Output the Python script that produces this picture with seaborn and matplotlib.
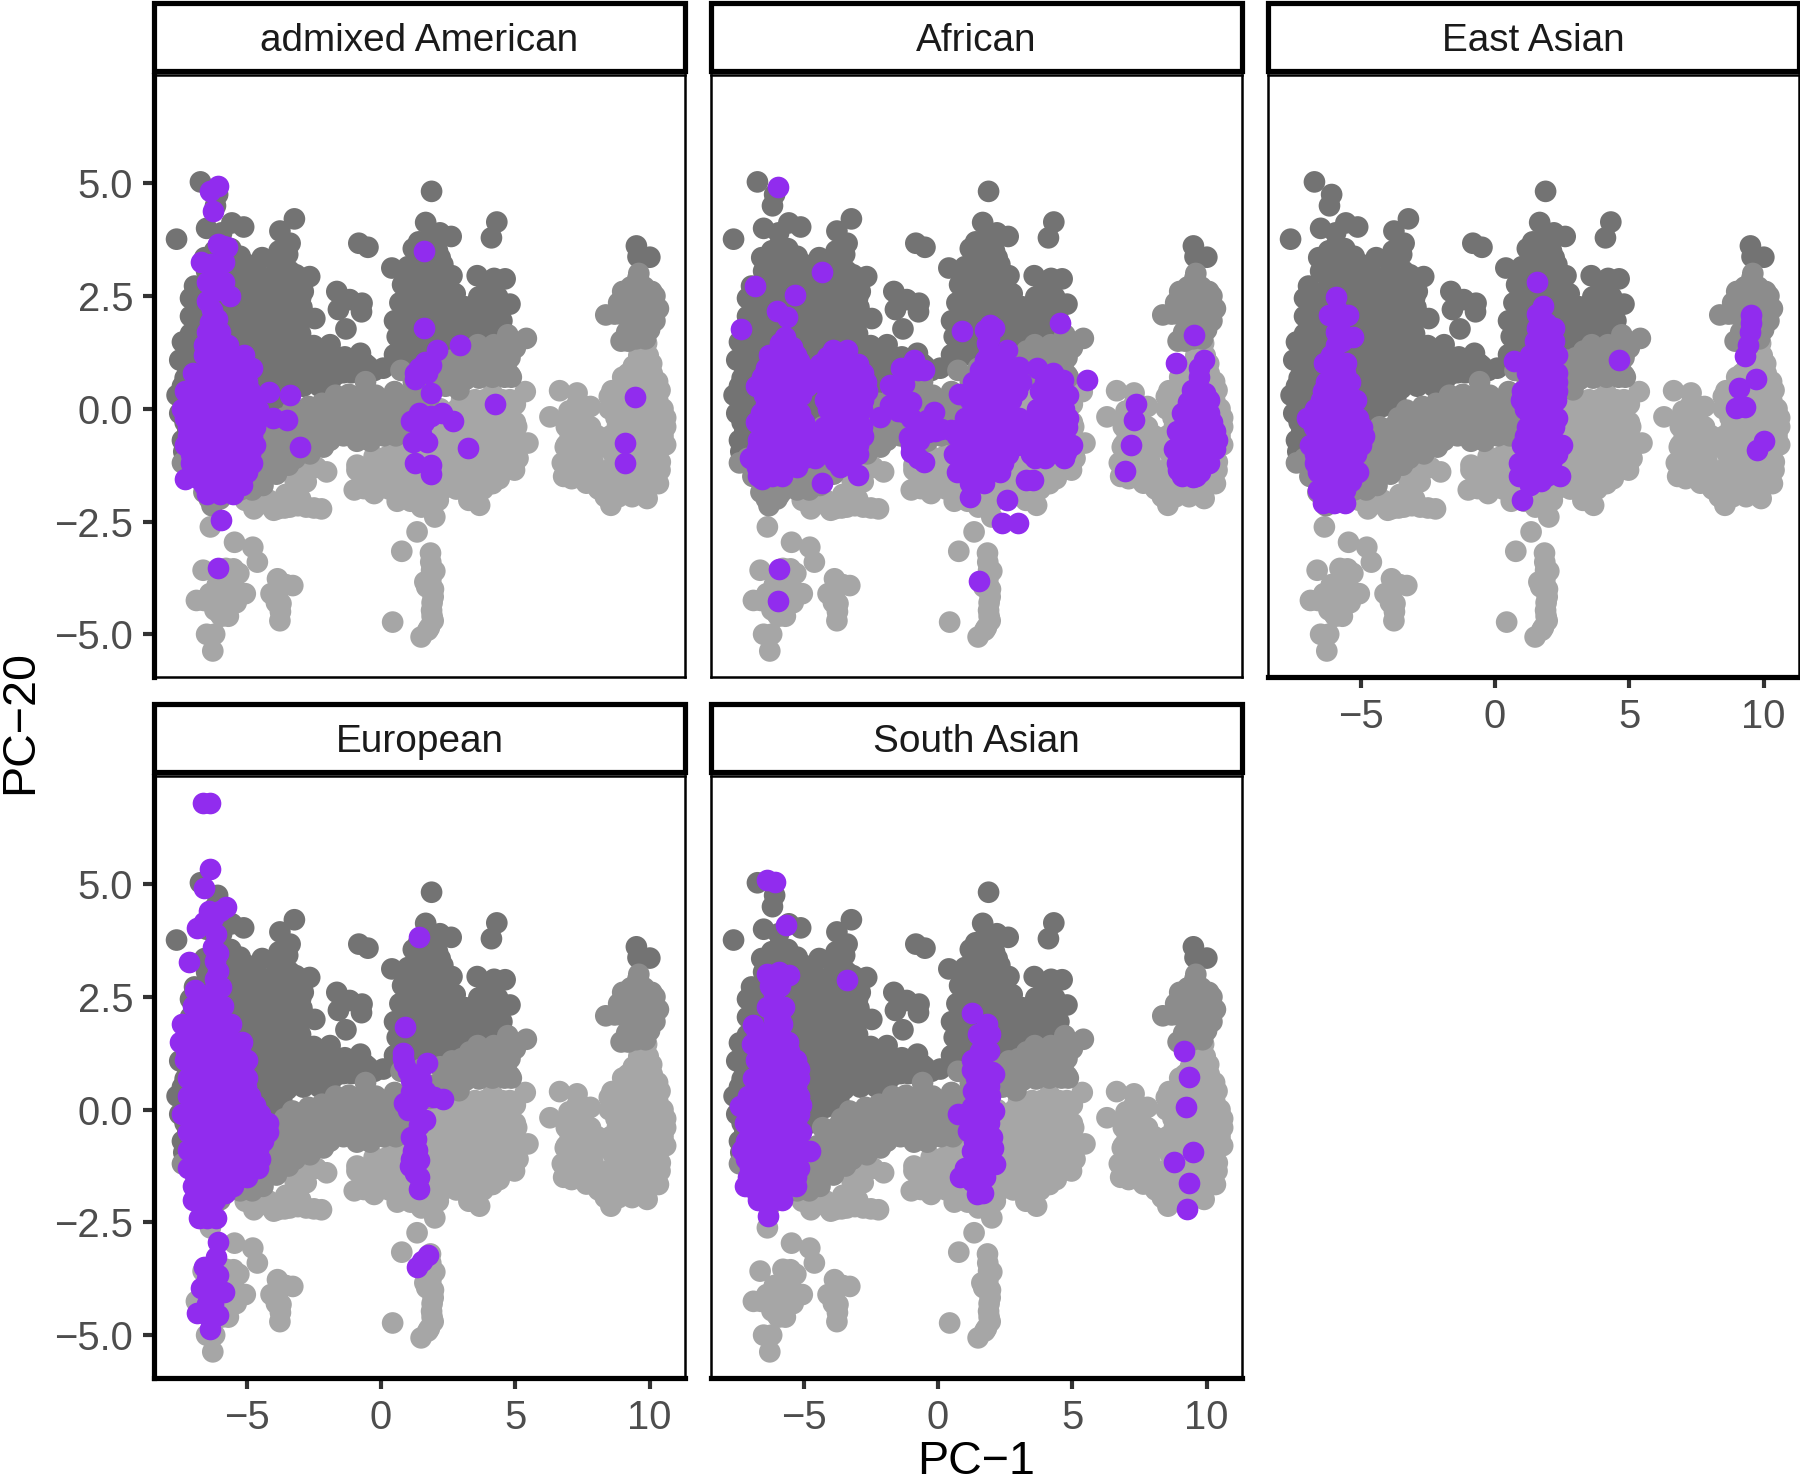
import matplotlib
matplotlib.use("Agg")
import matplotlib.pyplot as plt
import pandas as pd
import seaborn as sns
from matplotlib.patches import Rectangle

POPS = ["admixed American", "African", "East Asian", "European", "South Asian"]
X_TICKS = [-5, 0, 5, 10]
Y_TICKS = [-5.0, -2.5, 0.0, 2.5, 5.0]
Y_LABELS = ["\u22125.0", "\u22122.5", "0.0", "2.5", "5.0"]

# reference samples
DARK = [
    (-6.73, 5.03), (-6.09, 4.75), (-6.17, 4.5), (-7.62, 3.76), (-3.23, 4.21), (-3.77, 3.94), (-3.39, 3.67),
    (-6.5, 4.0), (-5.56, 4.12), (-5.12, 4.03), (-5.94, 3.9), (-6.57, 3.35), (-5.94, 3.6), (-5.25, 3.38),
    (-4.43, 3.35), (-3.8, 3.5), (-3.48, 3.42), (-0.83, 3.67), (-0.49, 3.58), (1.88, 4.82), (1.66, 4.13),
    (2.61, 3.82), (2.19, 3.9), (4.31, 4.14), (4.11, 3.79), (0.4, 3.12), (3.58, 2.95), (4.21, 2.89),
    (4.62, 2.88), (4.8, 2.32), (-1.65, 2.6), (-1.17, 2.42), (-0.71, 2.34), (-1.59, 2.2), (-0.73, 2.15),
    (-1.31, 1.77), (-2.47, 2.0), (-2.66, 2.93), (-3.17, 2.97), (9.51, 3.61), (10.01, 3.36), (9.57, 3.37),
    (0.08, 0.9), (-0.77, 1.23), (-1.9, 1.42), (-2.51, 1.4), (-6.95, 2.72),
    (-6.5, 3.05), (-5.9, 3.05), (-5.3, 3.05), (-4.6, 3.0), (-3.9, 3.0), (-3.4, 3.05),
    (-7.1, 2.45), (-6.2, 2.65), (-5.6, 2.65), (-5.0, 2.65), (-4.4, 2.65), (-3.8, 2.65), (-3.2, 2.65), (-2.9, 2.6),
    (-7.1, 2.05), (-6.4, 2.25), (-5.8, 2.25), (-5.2, 2.25), (-4.6, 2.25), (-4.0, 2.25), (-3.4, 2.25), (-2.95, 2.25),
    (-6.9, 1.85), (-6.3, 1.85), (-5.7, 1.85), (-5.1, 1.85), (-4.5, 1.85), (-3.9, 1.85), (-3.3, 1.85),
    (-7.4, 1.48), (-6.9, 1.48), (-6.3, 1.48), (-5.7, 1.48), (-5.1, 1.48), (-4.5, 1.48), (-3.9, 1.48), (-3.3, 1.48),
    (-7.5, 1.08), (-6.9, 1.08), (-6.3, 1.08), (-5.7, 1.08), (-5.1, 1.08), (-4.5, 1.08), (-3.9, 1.08), (-3.3, 1.08),
    (-2.7, 1.08), (-2.1, 1.08), (-1.5, 1.1), (-1.0, 1.05),
    (-7.3, 0.68), (-6.8, 0.68), (-6.2, 0.68), (-5.6, 0.68), (-5.0, 0.68), (-4.4, 0.68), (-3.8, 0.68), (-3.2, 0.68),
    (-2.6, 0.68), (-2.0, 0.72), (-1.4, 0.8), (-0.8, 0.85),
    (-7.6, 0.3), (-7.1, 0.3), (-6.5, 0.3), (-5.9, 0.3), (-5.3, 0.3), (-4.7, 0.3), (-4.1, 0.3), (-3.5, 0.45),
    (-2.9, 0.5), (-2.3, 0.5), (-1.9, 0.6),
    (-7.5, -0.1), (-7.0, -0.1), (-6.4, -0.1), (-5.8, -0.1), (-5.2, -0.1), (-4.6, -0.1), (-4.2, 0.05), (-3.7, 0.2),
    (-7.2, -0.5), (-6.8, -0.5), (-6.2, -0.5), (-5.6, -0.5), (-7.35, -0.95), (-6.8, -0.9), (-6.2, -0.9),
    (1.2, 3.55), (1.7, 3.55), (2.1, 3.5), (1.0, 3.15), (1.5, 3.15), (2.0, 3.15), (2.3, 3.2),
    (0.8, 2.75), (1.3, 2.75), (1.8, 2.75), (2.3, 2.75), (2.64, 2.95), (0.7, 2.35), (1.2, 2.35), (1.7, 2.35),
    (2.2, 2.35), (2.76, 2.55), (0.5, 1.95), (1.0, 1.95), (1.5, 1.95), (2.0, 1.95), (2.5, 1.95), (3.0, 1.95),
    (3.5, 1.95), (4.0, 1.95), (4.5, 1.95), (0.6, 1.6), (1.1, 1.55), (1.6, 1.55), (2.1, 1.55), (2.6, 1.55),
    (3.1, 1.6), (3.6, 1.65), (4.0, 1.7), (4.4, 1.75), (0.5, 1.2), (1.1, 1.2), (1.6, 1.2), (2.1, 1.2), (2.6, 1.2),
    (0.74, 1.13), (3.14, 2.26), (3.64, 2.48), (4.34, 2.48), (3.9, 2.6),
]
DARK_INNER = [
    (-6.2, 3.3), (-5.6, 3.3), (-5.0, 3.2), (-4.0, 3.3), (-6.2, 3.5), (-5.6, 3.55),
    (-6.2, 2.85), (-5.6, 2.85), (-5.0, 2.85), (-4.3, 2.85), (-3.7, 2.85), (-3.3, 2.85),
    (-6.7, 2.45), (-5.9, 2.45), (-5.3, 2.45), (-4.7, 2.45), (-4.1, 2.45), (-3.5, 2.45), (-3.0, 2.45),
    (-6.7, 2.05), (-6.1, 2.05), (-5.5, 2.05), (-4.9, 2.05), (-4.3, 2.05), (-3.7, 2.05), (-3.1, 2.05), (-2.8, 2.05),
    (-7.1, 1.66), (-6.6, 1.66), (-6.0, 1.66), (-5.4, 1.66), (-4.8, 1.66), (-4.2, 1.66), (-3.6, 1.66), (-3.0, 1.66),
    (-7.2, 1.28), (-6.6, 1.28), (-6.0, 1.28), (-5.4, 1.28), (-4.8, 1.28), (-4.2, 1.28), (-3.6, 1.28), (-3.0, 1.28),
    (-7.2, 0.88), (-6.6, 0.88), (-6.0, 0.88), (-5.4, 0.88), (-4.8, 0.88), (-4.2, 0.88), (-3.6, 0.88), (-3.0, 0.88),
    (-2.4, 0.88), (-1.8, 0.9), (-1.2, 0.95), (-0.6, 1.0), (-2.4, 1.2), (-1.8, 1.2), (-1.35, 1.15), (-0.5, 0.95), (-0.25, 0.85),
    (-7.4, 0.5), (-6.9, 0.5), (-6.5, 0.5), (-5.9, 0.5), (-5.3, 0.5), (-4.7, 0.5), (-4.1, 0.5), (-3.5, 0.6),
    (-2.9, 0.7), (-2.3, 0.7), (-1.7, 0.75), (-1.1, 0.8),
    (-7.3, 0.1), (-6.7, 0.1), (-6.1, 0.1), (-5.5, 0.1), (-4.9, 0.1), (-4.4, 0.2), (-3.9, 0.3),
    (-7.3, -0.3), (-6.6, -0.3), (-6.0, -0.3), (-5.4, -0.3), (-4.8, -0.3),
    (-7.4, -0.7), (-7.0, -0.7), (-6.5, -0.7), (-5.9, -0.7),
    (1.4, 3.7), (1.85, 3.75), (1.4, 3.35), (1.85, 3.35), (2.2, 3.35), (1.05, 2.95), (1.55, 2.95), (2.05, 2.95), (2.4, 2.95),
    (1.0, 2.55), (1.5, 2.55), (2.0, 2.55), (2.5, 2.55), (0.9, 2.15), (1.4, 2.15), (1.9, 2.15), (2.4, 2.15), (2.8, 2.15),
    (0.8, 1.75), (1.3, 1.75), (1.8, 1.75), (2.3, 1.75), (2.8, 1.75), (3.3, 1.75), (3.8, 1.8), (4.2, 1.85),
    (0.85, 1.4), (1.35, 1.4), (1.85, 1.4), (2.35, 1.4), (2.85, 1.4), (3.3, 1.45),
    (3.4, 2.15), (3.9, 2.2), (4.4, 2.2), (4.1, 2.55), (3.65, 2.2), (4.6, 2.3),
]
LIGHT = [
    (-4.74, -2.22), (-3.86, -2.22), (-2.79, -2.18), (-2.22, -2.22), (-2.03, -1.4), (-2.41, -1.3), (-2.79, -1.62),
    (-4.55, -1.78), (-3.55, -1.9), (-4.17, -2.03), (-3.4, -2.18), (-5.06, -2.03),
    (-1.0, -1.8), (-0.26, -1.88), (-0.64, -1.77), (-0.14, -1.5), (-0.9, -1.36), (-0.26, -1.06), (0.37, -1.66),
    (0.87, -1.95), (1.5, -2.18), (2.0, -2.4), (2.13, -2.03), (2.64, -1.66), (3.27, -2.03), (3.67, -2.14),
    (4.15, -1.66), (4.97, -1.36), (5.47, -0.76), (5.37, 0.38),
    (3.0, 0.2), (3.5, 0.2), (4.15, 0.33), (4.8, 0.2), (2.7, -0.2), (3.2, -0.2), (3.7, -0.2), (4.2, -0.2), (4.8, -0.2),
    (5.0, -0.3), (2.5, -0.6), (3.0, -0.6), (3.5, -0.6), (4.0, -0.6), (4.5, -0.6), (5.0, -0.6),
    (2.4, -1.0), (2.9, -1.0), (3.4, -1.0), (3.9, -1.0), (4.4, -1.0), (4.9, -1.0),
    (2.4, -1.4), (2.9, -1.4), (3.4, -1.4), (3.9, -1.4), (4.4, -1.4), (4.9, -1.25),
    (0.3, -1.78), (0.8, -1.78), (1.3, -1.78), (1.8, -1.78), (2.3, -1.78), (2.8, -1.78), (3.3, -1.78), (3.8, -1.78),
    (-0.9, -1.25), (-0.4, -1.25), (0.1, -1.25), (0.6, -1.25), (1.1, -1.25), (1.6, -1.25), (2.1, -1.25),
    (0.5, -0.9), (1.0, -0.9), (1.5, -0.9), (2.0, -0.9), (1.0, -0.5), (1.5, -0.5), (2.0, -0.5),
    (1.0, -0.1), (1.5, -0.1), (2.0, -0.1), (2.4, -0.1),
    (6.65, 0.4), (6.29, -0.18), (7.3, 0.35), (7.8, 0.05), (7.05, -0.25), (7.55, -0.1), (6.86, -0.85), (6.92, -1.48),
    (8.06, -1.73), (8.56, -2.14), (9.91, -1.99), (10.33, -1.66), (10.39, -1.36), (10.43, -0.47), (10.39, 0.41),
    (10.08, 1.0), (9.89, 1.45), (8.5, 0.27), (9.0, 0.7),
    (9.6, 1.18), (9.95, 1.18), (9.2, 0.78), (9.6, 0.78), (10.1, 0.78), (8.6, 0.4), (9.1, 0.4), (9.6, 0.4), (10.1, 0.4),
    (8.5, 0.0), (9.0, 0.0), (9.5, 0.0), (10.0, 0.0), (10.5, 0.0),
    (7.3, -0.4), (7.8, -0.4), (8.8, -0.4), (9.3, -0.4), (9.8, -0.4), (10.3, -0.4), (10.6, -0.4),
    (6.9, -0.8), (7.4, -0.8), (7.9, -0.8), (8.4, -0.85), (8.9, -0.8), (9.4, -0.8), (9.9, -0.8), (10.4, -0.8), (10.6, -0.8),
    (6.9, -1.18), (7.4, -1.18), (7.9, -1.18), (8.9, -1.18), (9.4, -1.18), (9.9, -1.18), (10.4, -1.18),
    (7.4, -1.48), (8.2, -1.5), (8.7, -1.48), (9.2, -1.48), (9.7, -1.48), (10.2, -1.48),
    (8.1, -1.78), (8.6, -1.78), (9.1, -1.78), (9.6, -1.78),
    (-6.36, -2.62), (-5.46, -2.96), (-4.78, -3.07), (-4.61, -3.4), (-6.63, -3.58), (-5.78, -3.54), (-5.5, -3.81),
    (-5.06, -4.1), (-6.88, -4.25), (-6.38, -4.1), (-5.81, -4.17), (-5.69, -4.6), (-6.19, -4.46), (-3.86, -3.77),
    (-3.29, -3.92), (-4.1, -4.1), (-3.73, -4.32), (-3.77, -4.7), (-6.5, -5.0), (-6.2, -5.0), (-6.27, -5.37),
    (1.34, -2.73), (0.77, -3.16), (1.84, -3.2), (1.88, -3.58), (1.63, -3.84), (1.94, -4.17), (1.88, -4.47),
    (1.94, -4.7), (0.43, -4.73), (1.74, -4.91), (1.49, -5.06),
]
LIGHT_INNER = [
    (-4.4, -2.1), (-4.0, -2.25), (-3.6, -2.2), (-3.1, -2.15), (-3.2, -1.9), (-3.0, -2.0), (-2.5, -2.2), (-3.2, -1.6), (-2.85, -1.3),
    (-0.65, -1.5), (-0.15, -1.65), (0.35, -1.5), (0.85, -1.5), (1.35, -1.5), (1.85, -1.5), (-0.5, -1.6), (-0.7, -1.55),
    (0.25, -1.05), (0.75, -1.05), (1.25, -1.05), (1.75, -1.05), (2.25, -1.05), (0.75, -0.7), (1.25, -0.7), (1.75, -0.7), (2.25, -0.7),
    (1.25, -0.3), (1.75, -0.3), (2.25, -0.3), (1.7, 0.0), (2.2, 0.0), (0.6, -2.05), (1.1, -2.05), (1.6, -2.05),
    (3.25, 0.1), (3.85, 0.2), (4.5, 0.2), (2.85, 0.0), (3.45, 0.0), (3.95, 0.0), (4.5, -0.05), (5.0, 0.1),
    (2.95, -0.4), (3.45, -0.4), (3.95, -0.4), (4.5, -0.4), (5.05, -0.4), (2.7, -0.8), (3.25, -0.8), (3.75, -0.8), (4.25, -0.8),
    (4.75, -0.8), (5.2, -0.8), (2.65, -1.2), (3.15, -1.2), (3.65, -1.2), (4.15, -1.2), (4.65, -1.2), (5.1, -1.1),
    (2.65, -1.6), (3.15, -1.6), (3.65, -1.6), (4.4, -1.55),
    (9.4, 0.95), (9.85, 0.95), (9.4, 0.6), (9.85, 0.6), (10.3, 0.6), (8.85, 0.2), (9.35, 0.2), (9.85, 0.2), (10.3, 0.2),
    (8.75, -0.2), (9.25, -0.2), (9.75, -0.2), (10.25, -0.2), (10.6, -0.2),
    (7.05, -0.6), (7.55, -0.6), (8.05, -0.6), (8.55, -0.6), (9.05, -0.6), (9.55, -0.6), (10.05, -0.6), (10.5, -0.6),
    (7.15, -1.0), (7.65, -1.0), (8.65, -1.0), (9.15, -1.0), (9.65, -1.0), (10.15, -1.0),
    (7.15, -1.35), (7.65, -1.35), (8.5, -1.35), (9.15, -1.35), (9.65, -1.35), (10.15, -1.35),
    (7.65, -1.65), (8.45, -1.65), (8.95, -1.65), (9.45, -1.65), (9.95, -1.65), (8.35, -1.95), (8.85, -1.95), (9.35, -1.95),
    (7.3, 0.1), (7.6, 0.05), (7.0, -0.05), (6.9, -0.4), (6.75, -1.2), (6.8, -1.5), (7.1, -1.55),
    (-5.3, -3.65), (-5.5, -4.2), (-6.1, -3.9), (-6.15, -4.25), (-5.4, -4.3), (-6.0, -4.55), (-5.5, -3.55), (-6.6, -4.25),
    (-5.7, -3.9), (-5.95, -4.6), (-3.8, -4.0), (-3.55, -3.9), (-3.9, -4.3), (-3.75, -4.5),
    (1.85, -3.4), (1.85, -3.8), (1.7, -3.95), (1.95, -4.0), (1.9, -4.3), (1.9, -4.6), (1.8, -4.85), (2.0, -3.6),
]
MID = [
    (-0.58, 0.6), (0.74, 0.85), (1.2, 0.6), (-1.7, 0.3), (-1.2, 0.32), (-0.7, 0.32), (-0.2, 0.3), (0.5, 0.38), (1.0, 0.3),
    (-3.3, -0.03), (-2.7, 0.05), (-2.2, 0.12), (-1.7, 0.0), (-1.2, 0.0), (-0.7, 0.0), (-0.2, 0.0), (0.3, 0.0), (0.8, 0.0),
    (-4.3, -0.4), (-3.8, -0.4), (-3.2, -0.4), (-2.7, -0.4), (-2.2, -0.4), (-1.7, -0.4), (-1.2, -0.4), (-0.7, -0.4),
    (-0.2, -0.4), (0.3, -0.4), (0.8, -0.4),
    (-5.0, -0.8), (-4.5, -0.8), (-4.0, -0.8), (-3.4, -0.8), (-2.9, -0.8), (-2.4, -0.8), (-1.9, -0.7), (-1.4, -0.6),
    (-0.9, -0.72), (-0.4, -0.72), (0.1, -0.6),
    (-6.5, -1.2), (-5.9, -1.2), (-5.3, -1.2), (-4.8, -1.2), (-4.3, -1.2), (-3.7, -1.2), (-3.2, -1.1),
    (-6.5, -1.6), (-6.0, -1.6), (-5.5, -1.6), (-5.0, -1.6), (-4.4, -1.55), (-3.9, -1.45),
    (-6.4, -2.0), (-6.0, -2.0), (-4.8, -1.8), (-7.4, -1.2), (-6.9, -1.5), (-6.6, -1.85), (-6.3, -2.15), (-5.9, -1.9),
    (4.72, 1.64), (5.41, 1.56), (3.6, 1.42), (4.2, 1.42), (3.0, 1.13), (3.5, 1.13), (4.0, 1.13), (4.5, 1.13), (4.8, 1.13),
    (2.64, 1.08), (2.4, 0.8), (2.9, 0.8), (3.4, 0.8), (3.9, 0.75), (4.4, 0.75), (4.8, 0.75), (2.4, 0.5), (2.9, 0.42),
    (1.3, 0.1), (1.8, 0.25),
    (9.57, 2.9), (9.0, 2.6), (10.08, 2.6), (10.33, 2.22), (8.37, 2.08), (8.94, 1.5), (9.82, 1.78), (10.2, 1.95),
    (9.51, 2.25), (8.94, 2.1), (9.51, 1.8), (9.19, 2.4), (9.9, 2.3),
]
MID_INNER = [
    (-1.45, 0.15), (-0.95, 0.15), (-0.45, 0.15), (0.15, 0.15), (0.75, 0.2), (0.25, 0.05),
    (-3.6, -0.2), (-3.0, -0.2), (-2.45, -0.2), (-1.95, -0.2), (-1.45, -0.2), (-0.95, -0.2), (-0.45, -0.2), (0.05, -0.2), (0.55, -0.2), (1.05, -0.2),
    (-4.05, -0.6), (-3.5, -0.6), (-2.95, -0.6), (-2.45, -0.6), (-1.95, -0.5), (-1.45, -0.5), (-0.95, -0.55), (-0.45, -0.55), (0.05, -0.45), (0.55, -0.6),
    (-5.6, -1.0), (-4.75, -1.0), (-4.25, -1.0), (-3.7, -1.0), (-3.15, -1.0), (-2.65, -1.0), (-2.15, -0.85),
    (-6.2, -1.4), (-5.6, -1.4), (-5.05, -1.4), (-4.55, -1.4), (-4.0, -1.4), (-3.45, -1.25),
    (-6.25, -1.8), (-5.75, -1.8), (-5.25, -1.8), (-4.4, -1.7), (-7.1, -1.1), (-6.9, -1.15),
    (3.3, 1.28), (3.9, 1.28), (4.5, 1.28), (5.0, 1.35), (2.75, 0.95), (3.25, 0.95), (3.75, 0.95), (4.25, 0.95), (4.65, 0.95),
    (2.65, 0.6), (3.15, 0.65), (3.65, 0.68), (4.15, 0.7), (4.6, 0.7), (4.85, 0.7), (1.5, 0.55), (2.0, 0.55), (1.5, 0.9), (2.2, 0.95),
    (9.3, 2.7), (9.8, 2.7), (9.3, 2.0), (9.75, 2.05), (9.15, 1.7), (9.7, 2.5), (10.0, 2.1), (9.5, 2.55), (8.7, 2.1),
    (9.2, 1.5), (9.5, 1.55), (10.0, 1.75), (9.85, 1.55), (8.85, 2.35), (10.2, 2.5), (9.6, 3.0),
]

ADMIXED = [
    (-6.07, 4.94), (-6.37, 4.83), (-6.28, 4.38), (-6.07, 3.66), (-5.73, 3.59), (-6.7, 3.26), (-5.85, 3.26),
    (-6.5, 2.82), (-5.85, 2.82), (-5.64, 2.49), (-6.5, 2.39), (-6.37, 1.93), (-6.07, 1.42), (-5.7, 1.42), (-6.58, 1.42),
    (-6.6, 1.2), (-6.1, 1.2), (-5.6, 1.2), (-5.1, 1.2),
    (-7.0, 0.8), (-6.5, 0.8), (-6.0, 0.8), (-5.5, 0.8), (-5.0, 0.8), (-4.8, 0.9),
    (-7.3, 0.4), (-6.8, 0.4), (-6.3, 0.4), (-5.8, 0.4), (-5.3, 0.4), (-4.9, 0.4),
    (-7.4, 0.0), (-6.9, 0.0), (-6.4, 0.0), (-5.9, 0.0), (-5.4, 0.0), (-4.9, 0.0), (-4.6, 0.0),
    (-7.2, -0.4), (-6.7, -0.4), (-6.2, -0.4), (-5.7, -0.4), (-5.2, -0.4), (-4.7, -0.4),
    (-7.3, -0.8), (-6.8, -0.8), (-6.3, -0.8), (-5.8, -0.8), (-5.3, -0.8), (-4.7, -0.8),
    (-7.1, -1.2), (-6.6, -1.2), (-6.1, -1.2), (-5.6, -1.2), (-5.1, -1.2), (-4.8, -1.2),
    (-7.3, -1.55), (-6.8, -1.55), (-6.3, -1.55), (-5.8, -1.55), (-5.3, -1.55),
    (-6.5, -1.9), (-6.0, -1.9), (-5.5, -1.9), (-5.98, -2.47), (-6.07, -3.54),
    (-6.4, 1.0), (-5.9, 1.0), (-5.4, 1.0), (-5.2, 1.0), (-6.8, 0.6), (-6.3, 0.6), (-5.8, 0.6), (-5.3, 0.6), (-5.0, 0.6),
    (-7.1, 0.2), (-6.6, 0.2), (-6.1, 0.2), (-5.6, 0.2), (-5.1, 0.2), (-4.8, 0.2), (-7.3, -0.2), (-6.8, -0.2), (-6.3, -0.2),
    (-5.8, -0.2), (-5.3, -0.2), (-4.8, -0.2), (-7.2, -0.6), (-6.7, -0.6), (-6.2, -0.6), (-5.7, -0.6), (-5.2, -0.6), (-4.8, -0.6),
    (-7.1, -1.0), (-6.6, -1.0), (-6.1, -1.0), (-5.6, -1.0), (-5.1, -1.0), (-4.9, -1.0), (-7.0, -1.4), (-6.5, -1.4), (-6.0, -1.4),
    (-5.5, -1.4), (-5.0, -1.4), (-6.6, -1.7), (-6.1, -1.7), (-5.6, -1.7), (-5.2, -1.7),
    (-6.3, 3.2), (-6.1, 3.0), (-6.2, 2.6), (-6.3, 2.2), (-6.1, 2.0), (-6.0, 1.7), (-6.5, 1.7), (-6.3, 1.6), (-5.9, 3.6), (-6.35, 3.2),
    (-4.19, 0.38), (-3.38, 0.3), (-4.02, -0.2), (-3.5, -0.25), (-3.03, -0.84),
    (1.58, 3.49), (1.58, 1.78), (2.95, 1.42), (2.09, 1.3), (1.62, 1.04), (1.28, 0.66), (1.84, 0.97), (1.28, 0.79),
    (1.84, 0.36), (1.41, -0.1), (1.84, -0.15), (1.11, -0.28), (2.26, -0.1), (2.69, -0.28), (1.2, -0.74), (1.71, -0.74),
    (3.25, -0.87), (4.23, 0.1), (1.28, -1.2), (1.84, -1.25), (1.84, -1.45), (9.44, 0.25), (9.1, -0.76), (9.1, -1.2),
    (1.6, -0.3), (1.5, -0.55), (1.4, 0.9), (1.7, 0.8),
]
AFRICAN = [
    (-5.98, 4.92), (-4.33, 3.03), (-6.82, 2.73), (-5.33, 2.53), (-6.0, 2.16), (-5.62, 2.04), (-7.33, 1.77), (0.9, 1.73),
    (4.53, 1.9), (5.56, 0.64), (9.53, 1.64), (8.88, 1.02), (7.39, 0.1), (7.3, -0.25), (7.2, -0.81), (6.95, -1.38),
    (-4.33, -1.64), (-2.98, -1.47), (3.27, -1.57), (3.53, -1.59), (2.57, -2.03), (2.38, -2.53), (2.99, -2.53),
    (1.19, -1.96), (1.53, -3.81), (-5.94, -3.55), (-5.98, -4.27),
    (-5.69, 1.6), (-5.88, 1.45), (-5.44, 1.38), (-6.3, 1.2), (-5.8, 1.2), (-5.3, 1.2), (-6.4, 0.9), (-5.9, 0.9), (-5.4, 0.9),
    (-5.0, 0.9), (-6.8, 0.5), (-6.3, 0.5), (-5.8, 0.5), (-5.3, 0.5), (-4.9, 0.5), (-6.4, 0.1), (-5.9, 0.1), (-5.4, 0.1),
    (-6.8, -0.3), (-6.4, -0.3), (-5.9, -0.3), (-5.4, -0.3), (-5.0, -0.3), (-6.7, -0.7), (-6.2, -0.7), (-5.7, -0.7), (-5.2, -0.7),
    (-7.0, -1.1), (-6.5, -1.1), (-6.0, -1.1), (-5.5, -1.1), (-5.0, -1.1), (-4.6, -1.1), (-6.7, -1.5), (-6.2, -1.5),
    (-5.8, -1.5), (-6.57, -1.55), (-5.84, -1.44),
    (-6.05, 1.05), (-5.55, 1.05), (-5.2, 1.05), (-6.55, 0.7), (-6.1, 0.7), (-5.6, 0.7), (-5.15, 0.7), (-6.5, 0.3), (-6.0, 0.3),
    (-5.55, 0.3), (-5.1, 0.3), (-6.6, -0.1), (-6.15, -0.1), (-5.65, -0.1), (-5.15, -0.1), (-6.45, -0.5), (-5.95, -0.5),
    (-5.45, -0.5), (-5.0, -0.5), (-6.75, -0.9), (-6.25, -0.9), (-5.75, -0.9), (-5.25, -0.9), (-4.8, -0.9), (-6.75, -1.3),
    (-6.3, -1.3), (-5.75, -1.3), (-5.25, -1.3),
    (-3.9, 1.3), (-3.4, 1.3), (-4.4, 1.0), (-3.9, 1.0), (-3.4, 1.0), (-3.0, 1.0), (-4.4, 0.6), (-3.9, 0.6), (-3.4, 0.6), (-2.7, 0.6),
    (-4.2, 0.2), (-3.7, 0.2), (-3.2, 0.2), (-2.8, 0.2), (-4.0, -0.2), (-3.5, -0.2), (-3.0, -0.2),
    (-4.5, -0.6), (-4.1, -0.6), (-3.6, -0.6), (-3.1, -0.6), (-2.8, -0.6), (-3.7, -1.0), (-3.2, -1.0), (-3.0, -1.0),
    (-4.49, -1.03), (-3.67, -1.29), (-3.4, -1.2), (-4.68, 0.71),
    (-3.65, 1.15), (-4.15, 1.15), (-4.15, 0.8), (-3.65, 0.8), (-3.15, 0.8), (-2.8, 0.8), (-4.05, 0.4), (-3.55, 0.4), (-3.05, 0.4),
    (-2.65, 0.4), (-3.75, 0.0), (-3.25, 0.0), (-2.85, 0.0), (-4.1, 0.0), (-4.25, -0.4), (-3.75, -0.4), (-3.25, -0.4), (-2.85, -0.4),
    (-4.4, -0.8), (-3.9, -0.8), (-3.4, -0.8), (-3.0, -0.8), (-3.45, -1.15), (-3.85, -1.15),
    (-0.9, 1.08), (-1.4, 0.9), (-0.54, 0.87), (-1.78, 0.53), (-1.27, 0.56), (-2.16, -0.18), (-1.78, 0.08), (-1.27, -0.07),
    (-1.02, 0.16), (-0.14, -0.07), (-1.08, -0.62), (-0.39, -0.51), (0.49, -0.47), (-1.02, -0.96), (-0.52, -1.18), (0.78, 0.32),
    (-1.2, 0.8), (-0.75, 0.85), (-1.55, 0.3), (-1.4, 0.3), (-1.5, -0.05), (-1.0, -0.2), (-0.7, -0.7), (-0.1, -0.5), (0.1, -0.45),
    (-0.75, -0.6), (-1.0, -0.8), (-0.75, -1.1), (-0.4, -0.25),
    (1.92, 1.86), (1.75, 1.75), (2.1, 1.8), (1.82, 1.45), (2.57, 1.3), (1.75, 1.08), (2.26, 1.08), (3.0, 0.93),
    (1.3, 0.6), (1.8, 0.6), (2.3, 0.6), (2.8, 0.6), (3.1, 0.6), (1.2, 0.2), (1.7, 0.2), (2.2, 0.2), (2.7, 0.2),
    (1.0, -0.2), (1.5, -0.2), (2.0, -0.2), (2.5, -0.2), (3.0, -0.2), (0.7, -0.6), (1.2, -0.6), (1.7, -0.6), (2.2, -0.6),
    (2.7, -0.6), (3.2, -0.6), (0.6, -1.0), (1.1, -1.0), (1.6, -1.0), (2.1, -1.0), (2.6, -1.0),
    (0.7, -1.4), (1.2, -1.4), (1.7, -1.4), (2.3, -1.4), (1.5, -1.5),
    (1.9, 1.55), (1.9, 1.25), (2.0, 0.9), (2.5, 0.9), (2.75, 0.85), (1.55, 0.85), (1.55, 0.4), (2.05, 0.4), (2.55, 0.4), (2.95, 0.4),
    (1.45, 0.0), (1.95, 0.0), (2.45, 0.0), (1.25, -0.4), (1.75, -0.4), (2.25, -0.4), (2.75, -0.4), (0.95, -0.8), (1.45, -0.8),
    (1.95, -0.8), (2.45, -0.8), (2.95, -0.8), (0.85, -1.2), (1.35, -1.2), (1.85, -1.2), (2.4, -1.2), (1.2, -1.65), (1.7, -1.65),
    (3.7, 0.9), (4.27, 0.79), (4.65, 0.64), (3.8, 0.4), (4.3, 0.4), (4.7, 0.4), (3.7, 0.0), (4.2, 0.0), (4.7, 0.0),
    (3.5, -0.4), (4.0, -0.4), (4.5, -0.4), (4.8, -0.4), (3.2, -0.8), (3.7, -0.8), (4.2, -0.8), (4.7, -0.8), (5.0, -0.8),
    (3.6, -1.1), (4.0, -1.1), (4.7, -1.1),
    (4.0, 0.6), (4.5, 0.6), (4.0, 0.2), (4.5, 0.2), (4.85, 0.3), (3.95, -0.2), (4.45, -0.2), (4.85, -0.2), (3.7, -0.6), (4.2, -0.6),
    (4.7, -0.6), (3.45, -1.0), (4.0, -0.95), (4.45, -0.95), (4.75, -0.95),
    (9.92, 1.08), (9.7, 0.71), (9.44, 0.41), (9.95, 0.34), (9.1, -0.1), (9.6, -0.1), (10.1, -0.1), (8.9, -0.5), (9.4, -0.5),
    (9.9, -0.5), (10.3, -0.5), (8.8, -0.9), (9.3, -0.9), (9.8, -0.9), (10.3, -0.9), (8.9, -1.2), (9.4, -1.2), (9.9, -1.2),
    (10.1, -1.2), (9.1, -1.5), (9.6, -1.5), (9.51, -1.51),
    (9.7, 0.9), (9.6, 0.4), (9.3, 0.15), (9.75, 0.15), (10.1, 0.2), (9.25, -0.3), (9.75, -0.3), (10.2, -0.3), (9.05, -0.7), (9.55, -0.7),
    (10.05, -0.7), (10.4, -0.7), (9.1, -1.05), (9.6, -1.05), (10.0, -1.05), (9.3, -1.4), (9.75, -1.4), (8.95, -1.35),
]
EAST_ASIAN = [
    (-5.94, 2.47), (-6.2, 2.08), (-5.49, 2.08), (-5.94, 1.7), (-5.3, 1.6), (-6.39, 1.02), (-5.56, 1.02), (-5.94, 1.41),
    (-6.3, 0.6), (-5.8, 0.6), (-5.4, 0.6), (-6.5, 0.2), (-6.0, 0.2), (-5.6, 0.2), (-5.2, 0.2),
    (-7.0, -0.2), (-6.5, -0.2), (-6.0, -0.2), (-5.5, -0.2), (-5.1, -0.2), (-6.6, -0.6), (-6.1, -0.6), (-5.6, -0.6),
    (-5.0, -0.6), (-4.9, -0.6), (-6.7, -1.0), (-6.2, -1.0), (-5.7, -1.0), (-5.2, -1.0), (-6.6, -1.4), (-6.1, -1.4),
    (-5.6, -1.4), (-5.1, -1.4), (-6.6, -1.8), (-6.1, -1.8), (-5.6, -1.8), (-6.4, -2.1), (-6.0, -2.1), (-5.6, -2.1),
    (-5.9, 2.2), (-5.8, 1.85), (-5.7, 1.5), (-6.1, 1.2), (-5.9, 1.0), (-6.05, 0.8), (-5.6, 0.8), (-6.4, 0.4), (-5.9, 0.4), (-5.5, 0.4),
    (-6.7, 0.0), (-6.25, 0.0), (-5.8, 0.0), (-5.35, 0.0), (-6.75, -0.4), (-6.3, -0.4), (-5.8, -0.4), (-5.3, -0.4), (-4.95, -0.4),
    (-6.9, -0.8), (-6.4, -0.8), (-5.9, -0.8), (-5.4, -0.8), (-5.0, -0.8), (-6.4, -1.2), (-5.9, -1.2), (-5.4, -1.2), (-6.7, -1.2),
    (-6.35, -1.6), (-5.85, -1.6), (-5.35, -1.6), (-6.3, -1.95), (-5.8, -1.95),
    (1.55, 2.81), (1.8, 2.28), (1.68, 1.99), (2.19, 1.8), (1.55, 1.8), (1.8, 1.5), (0.72, 1.07),
    (1.3, 1.2), (1.8, 1.2), (2.3, 1.2), (1.2, 0.8), (1.7, 0.8), (2.3, 0.8), (1.0, 0.4), (1.5, 0.4), (2.0, 0.4), (2.3, 0.4),
    (1.1, 0.0), (1.6, 0.0), (2.1, 0.0), (1.2, -0.4), (1.7, -0.4), (2.2, -0.4), (1.0, -0.8), (1.5, -0.8), (2.0, -0.8), (2.5, -0.8),
    (0.9, -1.2), (1.4, -1.2), (1.9, -1.2), (2.1, -1.2), (0.9, -1.5), (1.4, -1.5), (1.9, -1.5), (2.4, -1.5), (1.0, -2.02),
    (1.55, 2.1), (1.9, 1.9), (1.5, 1.5), (2.2, 1.5), (1.55, 1.0), (2.0, 1.0), (1.3, 1.0), (1.45, 0.6), (2.0, 0.6), (1.25, 0.6), (2.3, 0.6),
    (1.3, 0.2), (1.8, 0.2), (2.25, 0.2), (0.95, 0.2), (1.35, -0.2), (1.85, -0.2), (2.3, -0.2), (1.1, -0.6), (1.6, -0.6), (2.1, -0.6),
    (1.2, -1.0), (1.7, -1.0), (2.3, -1.0), (1.15, -1.4), (1.65, -1.4), (2.1, -1.45), (1.3, -1.7), (1.7, -1.6),
    (4.6, 1.09), (9.53, 2.08), (9.55, 1.9), (9.49, 1.7), (9.42, 1.41), (9.3, 1.17), (9.7, 0.67), (9.08, 0.46),
    (9.3, 0.03), (8.98, 0.01), (10.0, -0.71), (9.74, -0.91),
]
EUROPEAN = [
    (-6.62, 6.8), (-6.37, 6.8), (-6.37, 5.33), (-6.58, 4.92), (-5.77, 4.49), (-6.58, 4.15), (-6.28, 4.24), (-6.84, 4.02),
    (-6.28, 3.6), (-7.14, 3.27), (-6.07, 3.47), (-5.98, 2.71), (-6.92, 2.66), (-6.07, 3.08), (-6.28, 1.94),
    (-7.0, 2.3), (-6.3, 2.3), (-5.9, 2.3), (-7.4, 1.9), (-6.9, 1.9), (-6.4, 1.9), (-5.9, 1.9), (-5.6, 1.9),
    (-7.5, 1.5), (-7.0, 1.5), (-6.5, 1.5), (-6.0, 1.5), (-5.5, 1.5), (-5.2, 1.5), (-7.3, 1.1), (-6.8, 1.1), (-6.3, 1.1),
    (-5.8, 1.1), (-5.3, 1.1), (-5.0, 1.1), (-7.2, 0.7), (-6.7, 0.7), (-6.2, 0.7), (-5.7, 0.7), (-5.2, 0.7), (-5.0, 0.7),
    (-7.2, 0.3), (-6.7, 0.3), (-6.2, 0.3), (-5.7, 0.3), (-5.2, 0.3), (-4.9, 0.3), (-7.4, -0.1), (-6.9, -0.1), (-6.4, -0.1),
    (-5.9, -0.1), (-5.4, -0.1), (-4.9, -0.1), (-4.5, -0.1), (-7.2, -0.5), (-6.7, -0.5), (-6.2, -0.5), (-5.7, -0.5),
    (-5.2, -0.5), (-4.7, -0.5), (-4.2, -0.5), (-7.2, -0.9), (-6.7, -0.9), (-6.2, -0.9), (-5.7, -0.9), (-5.2, -0.9),
    (-4.6, -0.9), (-7.2, -1.3), (-6.7, -1.3), (-6.2, -1.3), (-5.7, -1.3), (-5.2, -1.3), (-4.6, -1.3), (-7.0, -1.7),
    (-6.5, -1.7), (-6.0, -1.7), (-5.5, -1.7), (-7.0, -2.0), (-6.6, -2.0), (-6.2, -2.0), (-6.8, -2.4), (-6.15, -2.4), (-6.5, -2.4),
    (-6.6, 2.1), (-6.1, 2.1), (-7.15, 1.7), (-6.65, 1.7), (-6.15, 1.7), (-5.75, 1.7), (-7.25, 1.3), (-6.75, 1.3), (-6.25, 1.3),
    (-5.75, 1.3), (-5.25, 1.3), (-7.05, 0.9), (-6.55, 0.9), (-6.05, 0.9), (-5.55, 0.9), (-5.15, 0.9), (-6.95, 0.5), (-6.45, 0.5),
    (-5.95, 0.5), (-5.45, 0.5), (-5.05, 0.5), (-6.95, 0.1), (-6.45, 0.1), (-5.95, 0.1), (-5.45, 0.1), (-5.0, 0.1), (-4.7, 0.1),
    (-7.0, -0.3), (-6.45, -0.3), (-5.95, -0.3), (-5.45, -0.3), (-4.95, -0.3), (-4.45, -0.3), (-4.2, -0.3), (-6.95, -0.7),
    (-6.45, -0.7), (-5.95, -0.7), (-5.45, -0.7), (-4.95, -0.7), (-4.4, -0.7), (-6.95, -1.1), (-6.45, -1.1), (-5.95, -1.1),
    (-5.45, -1.1), (-4.9, -1.1), (-4.5, -1.1), (-6.85, -1.5), (-6.35, -1.5), (-5.85, -1.5), (-5.35, -1.5), (-5.0, -1.5),
    (-6.75, -1.85), (-6.3, -1.85), (-5.8, -1.85), (-6.6, -2.2), (-6.2, 2.7), (-6.6, 2.5), (-6.2, 3.3), (-6.2, 2.9), (-6.15, 3.9),
    (-6.4, 4.4), (-6.0, 4.4),
    (-6.07, -2.94), (-6.15, -3.27), (-6.58, -3.48), (-6.07, -3.66), (-6.7, -3.96), (-5.85, -4.04), (-6.28, -4.3),
    (-6.84, -4.5), (-6.07, -4.55), (-6.37, -4.87), (-6.3, -3.7), (-6.5, -3.75), (-6.2, -4.1), (-6.5, -4.3), (-6.4, -4.6),
    (1.41, 3.82), (0.9, 1.84), (0.81, 1.25), (0.85, 1.04), (1.71, 1.04), (1.11, 0.66), (1.62, 0.41), (1.97, 0.28), (2.31, 0.23),
    (0.85, 0.15), (1.28, 0.03), (1.62, -0.22), (1.11, -0.61), (1.2, -0.92), (1.41, -1.12), (1.07, -1.25), (1.41, -1.5),
    (1.41, -1.76), (1.75, -3.22), (1.32, -3.48), (1.54, -3.35),
    (0.8, 1.15), (1.0, 0.85), (1.35, 0.75), (1.5, 0.65), (1.1, 0.4), (1.4, 0.2), (1.0, 0.0), (1.4, -0.35), (1.3, -0.65), (1.35, -0.9),
    (1.25, -1.05), (1.25, -1.4), (1.1, -1.1),
]
SOUTH_ASIAN = [
    (-6.38, 5.09), (-6.06, 5.05), (-5.65, 4.09), (-3.38, 2.88), (-6.38, 3.01), (-5.94, 3.05), (-5.56, 2.98), (-6.13, 2.57),
    (-5.75, 2.27), (-6.38, 2.27), (-6.88, 1.87), (-5.81, 1.9), (-6.95, 1.46), (-6.5, 1.5), (-6.0, 1.5), (-5.6, 1.5),
    (-6.8, 1.1), (-6.3, 1.1), (-5.8, 1.1), (-5.3, 1.1), (-6.9, 0.7), (-6.4, 0.7), (-5.9, 0.7), (-5.4, 0.7), (-5.2, 0.7),
    (-7.1, 0.3), (-6.5, 0.3), (-6.0, 0.3), (-5.5, 0.3), (-5.2, 0.3), (-7.39, 0.09), (-7.0, -0.1), (-6.5, -0.1), (-6.0, -0.1),
    (-5.5, -0.1), (-5.2, -0.1), (-7.0, -0.5), (-6.5, -0.5), (-6.0, -0.5), (-5.5, -0.5), (-5.1, -0.5), (-7.3, -0.9), (-6.8, -0.9),
    (-6.3, -0.9), (-5.8, -0.9), (-5.3, -0.9), (-4.77, -0.91), (-7.0, -1.3), (-6.5, -1.3), (-6.0, -1.3), (-5.5, -1.3),
    (-5.2, -1.3), (-7.2, -1.7), (-6.7, -1.7), (-6.2, -1.7), (-5.7, -1.7), (-5.3, -1.7), (-6.7, -2.0), (-6.2, -2.0), (-5.8, -2.0),
    (-6.34, -2.36),
    (-6.1, 2.0), (-5.9, 2.0), (-6.75, 1.7), (-6.3, 1.7), (-5.9, 1.7), (-6.6, 1.7), (-6.55, 1.3), (-6.05, 1.3), (-5.55, 1.3),
    (-6.6, 0.9), (-6.1, 0.9), (-5.6, 0.9), (-5.2, 0.9), (-6.8, 0.5), (-6.25, 0.5), (-5.75, 0.5), (-5.3, 0.5), (-7.05, 0.1),
    (-6.55, 0.1), (-6.05, 0.1), (-5.55, 0.1), (-5.1, 0.1), (-7.2, -0.3), (-6.75, -0.3), (-6.25, -0.3), (-5.75, -0.3), (-5.3, -0.3),
    (-7.15, -0.7), (-6.75, -0.7), (-6.25, -0.7), (-5.75, -0.7), (-5.3, -0.7), (-7.15, -1.1), (-6.75, -1.1), (-6.25, -1.1),
    (-5.75, -1.1), (-5.25, -1.1), (-7.1, -1.5), (-6.6, -1.5), (-6.1, -1.5), (-5.6, -1.5), (-5.3, -1.5), (-6.75, -1.85), (-6.45, -1.85),
    (-5.95, -1.85), (-6.25, 2.75), (-5.9, 2.75),
    (1.27, 2.15), (1.82, 1.9), (1.94, 1.68), (1.5, 1.68), (1.56, 1.31), (1.88, 1.31), (1.25, 1.09), (2.0, 0.83), (1.25, 0.87),
    (1.63, 1.01), (2.07, 0.79), (1.31, 0.42), (1.88, 0.53), (0.74, -0.1), (2.07, -0.02), (1.25, 0.05), (1.63, 0.05), (1.12, -0.47),
    (2.0, -0.61), (1.63, -0.39), (1.25, -0.91), (1.75, -0.91), (2.13, -1.21), (1.25, -1.28), (0.81, -1.5), (1.25, -1.58),
    (1.75, -1.5), (1.44, -1.87), (1.69, -1.84), (1.1, -1.4),
    (1.6, 1.6), (1.45, 0.9), (1.7, 0.7), (1.55, 0.3), (1.95, 0.3), (1.05, -0.1), (1.45, -0.25), (1.9, -0.3), (1.35, -0.7), (1.85, -0.7),
    (2.05, -0.85), (1.45, -1.1), (1.85, -1.25), (1.0, -1.3), (1.5, -1.4), (1.4, 0.7), (1.6, 0.55),
    (9.15, 1.31), (9.33, 0.73), (9.22, 0.05), (9.51, -0.95), (8.79, -1.15), (9.33, -1.63), (9.29, -2.21),
]
PURPLE = [ADMIXED, AFRICAN, EAST_ASIAN, EUROPEAN, SOUTH_ASIAN]

GROUP_COLORS = {"dark": "#737373", "light": "#a6a6a6", "mid": "#8c8c8c"}
HIGHLIGHT = "#912cee"
W, H = 1800, 1482


def make_frames():
    parts = []
    for name, pts in [("dark", DARK + DARK_INNER), ("light", LIGHT + LIGHT_INNER), ("mid", MID + MID_INNER)]:
        part = pd.DataFrame(pts, columns=["pc1", "pc20"])
        part["group"] = name
        parts.append(part)
    background = pd.concat(parts, ignore_index=True)
    parts = []
    for pop, pts in zip(POPS, PURPLE):
        part = pd.DataFrame(pts, columns=["pc1", "pc20"])
        part["pop"] = pop
        parts.append(part)
    return background, pd.concat(parts, ignore_index=True)


def style_panel(ax, pop, i):
    ax.set(xlim=(-8.46, 11.32), ylim=(-5.95, 7.4), xlabel="", ylabel="")
    ax.set_xticks(X_TICKS)
    ax.set_yticks(Y_TICKS, Y_LABELS)
    ax.tick_params(axis="both", length=2.6, width=1.0, color="#333333", labelcolor="#4d4d4d", labelsize=9.6, pad=2.4)
    ax.tick_params(axis="x", bottom=i >= 2, labelbottom=i >= 2)
    ax.tick_params(axis="y", left=i in (0, 3), labelleft=i in (0, 3))
    for side, spine in ax.spines.items():
        spine.set_visible(True)
        spine.set_color("black")
        spine.set_linewidth(0.6)
    if i in (0, 3):
        ax.spines["left"].set_linewidth(1.25)
    if i >= 2:
        ax.spines["bottom"].set_linewidth(1.25)
    ax.add_patch(Rectangle((0, 1.0066), 1, 0.113, transform=ax.transAxes, facecolor="white",
                           edgecolor="black", linewidth=1.25, clip_on=False))
    ax.text(0.5, 1.056, pop, transform=ax.transAxes, ha="center", va="center", fontsize=9.3, color="#1a1a1a")


def main():
    sns.set_theme(style="white")
    plt.rcParams["font.family"] = ["Liberation Sans", "DejaVu Sans"]
    background, purple = make_frames()

    g = sns.FacetGrid(purple, col="pop", col_order=POPS, col_wrap=3, sharex=True, sharey=True, despine=False)
    g.figure.set_size_inches(6, 4.94)
    g.figure.subplots_adjust(left=154 / W, right=1799 / W, top=1 - 75 / H, bottom=1 - 1378 / H, wspace=0.049, hspace=0.164)
    g.set_titles(template="")

    for i, (pop, ax) in enumerate(g.axes_dict.items()):
        sns.scatterplot(data=background, x="pc1", y="pc20", hue="group", palette=GROUP_COLORS, s=27,
                        linewidth=0, legend=False, ax=ax)
        sns.scatterplot(data=purple[purple["pop"] == pop], x="pc1", y="pc20", color=HIGHLIGHT, s=27,
                        linewidth=0, legend=False, ax=ax)
        style_panel(ax, pop, i)

    g.figure.text(976 / W, 1 - 1462 / H, "PC\u22121", ha="center", va="center", fontsize=11.2, color="black")
    g.figure.text(20 / W, 1 - 722 / H, "PC\u221220", ha="center", va="center", rotation=90, fontsize=11.2, color="black")
    g.figure.savefig("out.png", dpi=300)


if __name__ == "__main__":
    main()
